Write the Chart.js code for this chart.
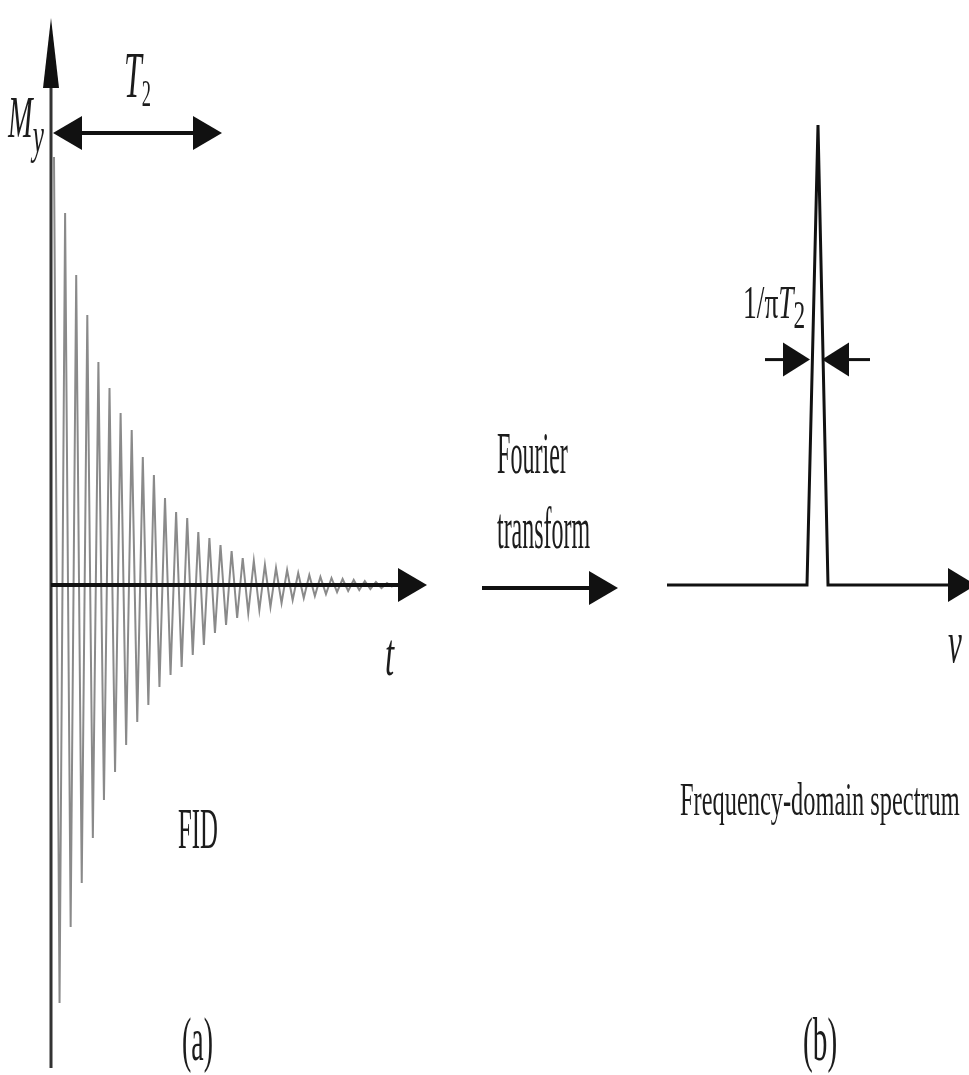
<!DOCTYPE html>
<html>
<head>
<meta charset="utf-8">
<title>FID and frequency-domain spectrum</title>
<script src="https://cdn.jsdelivr.net/npm/chart.js@4/dist/chart.umd.min.js"></script>
<style>
  html, body { margin: 0; padding: 0; background: #fff; }
  #wrap { position: relative; width: 969px; height: 1075px; overflow: hidden; }
  #chart { position: absolute; left: 0; top: 0; }
  .lbl {
    position: absolute;
    font-family: "Liberation Serif", "Times New Roman", Tinos, "DejaVu Serif", serif;
    color: #1c1c1c;
    line-height: 1;
    white-space: nowrap;
    transform-origin: 0 0;
  }
  .lbl i { font-style: italic; }
  .lbl .sub { position: relative; }
</style>
</head>
<body>
<div id="wrap">
  <canvas id="chart" width="969" height="1075"></canvas>

  <div class="lbl" data-w="36" style="left:8px;top:87px;font-size:60px"><i>M</i><i class="sub" style="font-size:0.85em;top:0.3em">y</i></div>
  <div class="lbl" data-w="27" style="left:124px;top:42px;font-size:66px"><i>T</i><span class="sub" style="font-size:0.58em;top:0.24em">2</span></div>
  <div class="lbl" data-w="9" style="left:385px;top:623px;font-size:62px"><i>t</i></div>
  <div class="lbl" data-w="40" style="left:178px;top:800px;font-size:57px">FID</div>
  <div class="lbl" data-w="31" style="left:182px;top:1008px;font-size:62px">(a)</div>

  <div class="lbl" data-w="71" style="left:497px;top:423px;font-size:60px">Fourier</div>
  <div class="lbl" data-w="93" style="left:497px;top:498px;font-size:60px">transform</div>

  <div class="lbl" data-w="62" style="left:743px;top:279px;font-size:47px">1/π<i>T</i><span class="sub" style="font-size:0.85em;top:0.25em">2</span></div>
  <div class="lbl" data-w="14" style="left:948px;top:612px;font-size:60px"><i>v</i></div>
  <div class="lbl" data-w="280" style="left:680px;top:776px;font-size:47px">Frequency-domain spectrum</div>
  <div class="lbl" data-w="34" style="left:803px;top:1008px;font-size:62px">(b)</div>
</div>

<script>
// (a) FID: one positive and one negative extreme per cycle
const cycleIndex = [0, 1, 2, 3, 4, 5, 6, 7, 8, 9, 10, 11, 12, 13, 14, 15,
  16, 17, 18, 19, 20, 21, 22, 23, 24, 25, 26, 27, 28, 29, 30];
const fidPosPeaks = [428, 372, 310, 270, 223, 197, 172, 155, 128, 110, 87, 73,
  67, 53, 47, 40, 34, 27, 24, 20, 17, 15, 12, 10, 8, 7, 6, 5, 4, 3, 2];
const fidNegPeaks = [-418, -342, -298, -253, -215, -187, -160, -137, -120, -102,
  -90, -82, -70, -60, -48, -40, -33, -28, -25, -22, -18, -15, -13, -11, -9, -7,
  -6, -5, -4, -3, -2];

// (b) spectrum: single line, centred on the resonance
const specFreq = [-15.1, -1.1, 0, 1.0, 14.0];
const specIntensity = [0, 0, 1, 0, 0];

const fidPoints = [];
cycleIndex.forEach((k, i) => {
  fidPoints.push({ x: k, y: fidPosPeaks[i] });
  fidPoints.push({ x: k + 0.5, y: fidNegPeaks[i] });
});

const specPoints = specFreq.map((f, i) => ({ x: f, y: specIntensity[i] }));

// squeeze each label to the width it has in the figure
document.querySelectorAll(".lbl").forEach((el) => {
  const target = Number(el.dataset.w);
  const natural = el.offsetWidth;
  if (natural > 0) {
    el.style.transform = "scaleX(" + (target / natural).toFixed(3) + ")";
  }
});

function arrowHead(ctx, tipX, tipY, dx, dy, len, half) {
  const bx = tipX - dx * len;
  const by = tipY - dy * len;
  ctx.beginPath();
  ctx.moveTo(tipX, tipY);
  ctx.lineTo(bx - dy * half, by + dx * half);
  ctx.lineTo(bx + dy * half, by - dx * half);
  ctx.closePath();
  ctx.fill();
}

function line(ctx, x1, y1, x2, y2) {
  ctx.beginPath();
  ctx.moveTo(x1, y1);
  ctx.lineTo(x2, y2);
  ctx.stroke();
}

const decorations = {
  id: "decorations",
  afterDatasetsDraw(chart) {
    const ctx = chart.ctx;
    const sx = chart.scales.x;
    const sy = chart.scales.y;
    const sy2 = chart.scales.y2;

    const axisX = sx.getPixelForValue(-0.27);
    const baseY = sy.getPixelForValue(0);
    const specY = sy2.getPixelForValue(0);
    const halfY = sy2.getPixelForValue(0.49);

    ctx.save();
    ctx.lineCap = "butt";

    // M_y axis
    ctx.strokeStyle = "#333";
    ctx.lineWidth = 3;
    line(ctx, axisX, 1068, axisX, 70);
    ctx.fillStyle = "#111";
    arrowHead(ctx, axisX, 18, 0, -1, 70, 8);

    // T2 double arrow
    ctx.strokeStyle = "#111";
    ctx.lineWidth = 4;
    line(ctx, 75, 133, 200, 133);
    arrowHead(ctx, 53, 133, -1, 0, 29, 17);
    arrowHead(ctx, 222, 133, 1, 0, 29, 17);

    // time axis
    line(ctx, axisX, baseY, 402, baseY);
    arrowHead(ctx, 427, baseY, 1, 0, 29, 17);

    // Fourier transform arrow
    line(ctx, 482, 588, 595, 588);
    arrowHead(ctx, 618, 588, 1, 0, 29, 17);

    // frequency axis head
    arrowHead(ctx, 976, specY, 1, 0, 28, 17);

    // linewidth markers at half height
    ctx.lineWidth = 3;
    line(ctx, 765, halfY, 790, halfY);
    arrowHead(ctx, 810, halfY, 1, 0, 27, 17);
    line(ctx, 845, halfY, 870, halfY);
    arrowHead(ctx, 822, halfY, -1, 0, 27, 17);

    ctx.restore();
  },
};

new Chart(document.querySelector("#chart"), {
  type: "line",
  data: {
    datasets: [
      {
        label: "FID",
        data: fidPoints,
        borderColor: "#8a8a8a",
        borderWidth: 2,
        pointRadius: 0,
        tension: 0,
        xAxisID: "x",
        yAxisID: "y",
      },
      {
        label: "Spectrum",
        data: specPoints,
        borderColor: "#111",
        borderWidth: 3,
        pointRadius: 0,
        tension: 0,
        xAxisID: "x2",
        yAxisID: "y2",
      },
    ],
  },
  options: {
    responsive: false,
    animation: false,
    layout: { padding: 0 },
    plugins: {
      legend: { display: false },
      tooltip: { enabled: false },
    },
    scales: {
      x: { type: "linear", display: false, min: -4.865, max: 82.43 },
      y: { type: "linear", display: false, min: -490, max: 585 },
      x2: { type: "linear", display: false, min: -81.8, max: 15.1 },
      y2: { type: "linear", display: false, min: -1.0652, max: 1.2717 },
    },
  },
  plugins: [decorations],
});
</script>
</body>
</html>
